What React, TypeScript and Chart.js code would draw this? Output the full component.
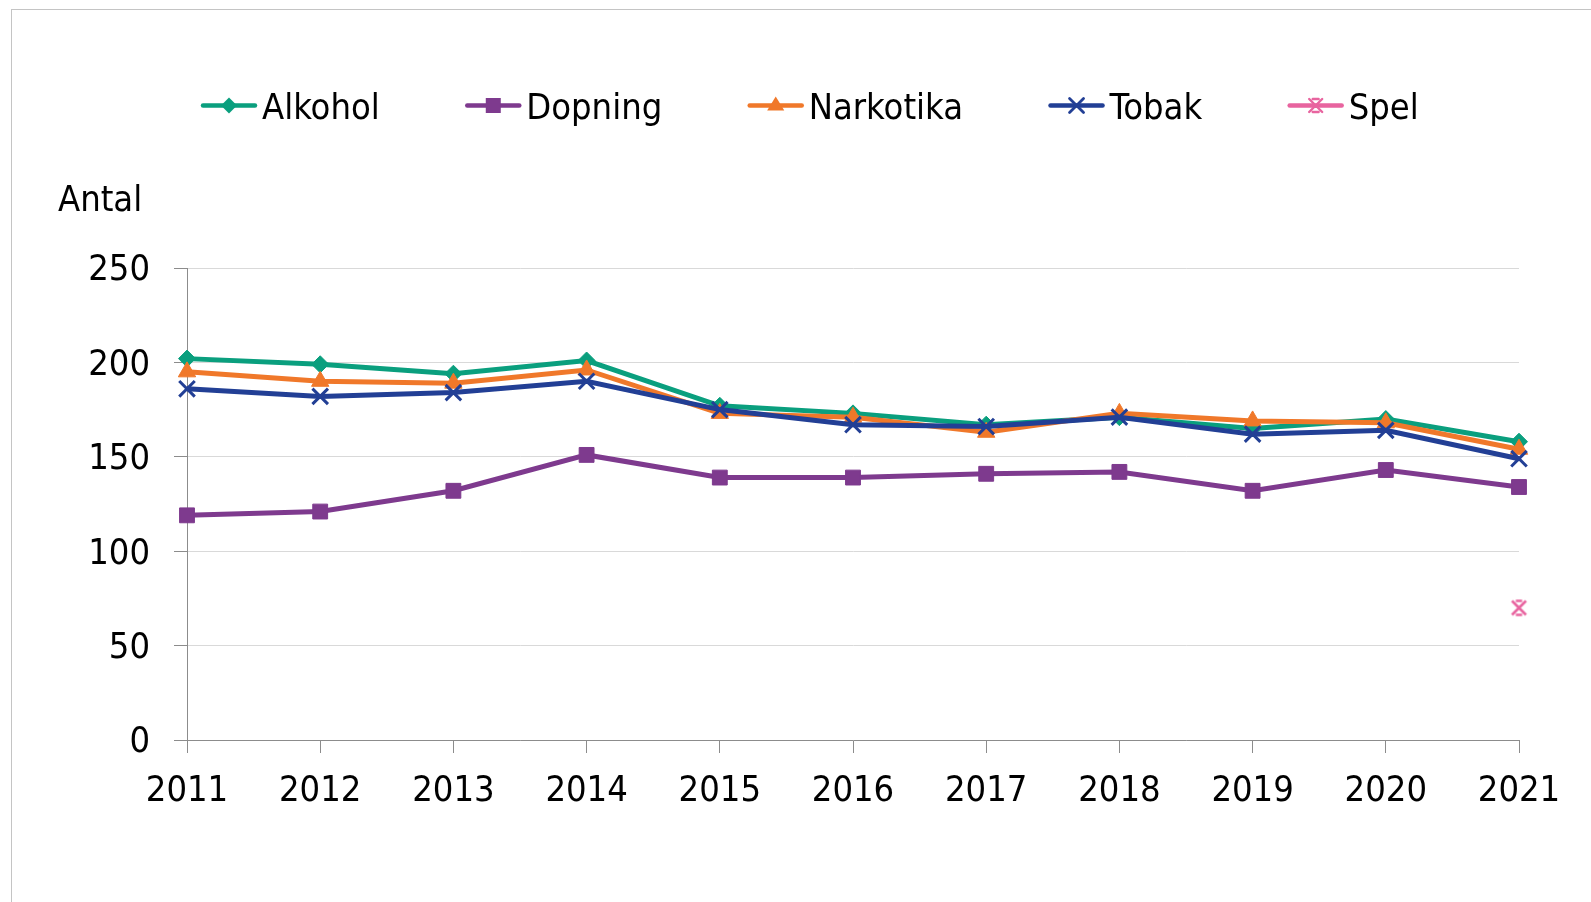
import React, { useEffect, useRef } from 'react';
import { Chart, registerables } from 'chart.js';

Chart.register(...registerables);

const years = ['2011', '2012', '2013', '2014', '2015', '2016', '2017', '2018', '2019', '2020', '2021'];
const alkohol = [202, 199, 194, 201, 177, 173, 167, 171, 165, 170, 158];
const dopning = [119, 121, 132, 151, 139, 139, 141, 142, 132, 143, 134];
const narkotika = [195, 190, 189, 196, 173, 171, 163, 173, 169, 168, 154];
const tobak = [186, 182, 184, 190, 175, 167, 166, 171, 162, 164, 149];
const spel = [null, null, null, null, null, null, null, null, null, null, 70];
const seriesNames = ['Alkohol', 'Dopning', 'Narkotika', 'Tobak', 'Spel'];
const yAxisTitle = 'Antal';

const FONT = '"DejaVu Sans Condensed", "DejaVu Sans", sans-serif';
const colors = {
  Alkohol: '#0a9f7e',
  Dopning: '#7e3a8e',
  Narkotika: '#f0782a',
  Tobak: '#223f95',
  Spel: '#e8649f',
};

function strokeStar(g: CanvasRenderingContext2D, x: number, y: number, r: number) {
  g.beginPath();
  g.moveTo(x - r, y - r); g.lineTo(x + r, y + r);
  g.moveTo(x + r, y - r); g.lineTo(x - r, y + r);
  g.moveTo(x - r * 0.45, y - r); g.lineTo(x + r * 0.45, y - r);
  g.moveTo(x - r * 0.45, y + r); g.lineTo(x + r * 0.45, y + r);
  g.stroke();
}

function makeStarCanvas(color: string, size: number) {
  const c = document.createElement('canvas');
  c.width = size;
  c.height = size;
  const g = c.getContext('2d')!;
  g.strokeStyle = color;
  g.lineWidth = 2.6;
  strokeStar(g, size / 2, size / 2, size / 2 - 2.5);
  return c;
}

function drawMarker(ctx: CanvasRenderingContext2D, style: string, x: number, y: number, color: string) {
  ctx.save();
  ctx.fillStyle = color;
  ctx.strokeStyle = color;
  if (style === 'rectRot') {
    const r = 8;
    ctx.beginPath();
    ctx.moveTo(x, y - r); ctx.lineTo(x + r, y); ctx.lineTo(x, y + r); ctx.lineTo(x - r, y);
    ctx.closePath(); ctx.fill();
  } else if (style === 'rect') {
    const s = 7.5;
    ctx.fillRect(x - s, y - s, 2 * s, 2 * s);
  } else if (style === 'triangle') {
    const r = 9;
    ctx.beginPath();
    ctx.moveTo(x, y - r); ctx.lineTo(x + r * 0.95, y + r * 0.55); ctx.lineTo(x - r * 0.95, y + r * 0.55);
    ctx.closePath(); ctx.fill();
  } else if (style === 'crossRot') {
    const r = 7;
    ctx.lineWidth = 2.8;
    ctx.beginPath();
    ctx.moveTo(x - r, y - r); ctx.lineTo(x + r, y + r);
    ctx.moveTo(x + r, y - r); ctx.lineTo(x - r, y + r);
    ctx.stroke();
  } else if (style === 'star') {
    ctx.lineWidth = 2.4;
    strokeStar(ctx, x, y, 6.5);
  }
  ctx.restore();
}

const markerStyles = ['rectRot', 'rect', 'triangle', 'crossRot', 'star'];

const decorPlugin = {
  id: 'decor',
  beforeDraw(chart: any) {
    const ctx = chart.ctx as CanvasRenderingContext2D;
    ctx.save();
    ctx.fillStyle = '#ffffff';
    ctx.fillRect(0, 0, chart.width, chart.height);
    ctx.strokeStyle = '#c4c4c4';
    ctx.lineWidth = 1;
    ctx.strokeRect(11.5, 9.5, chart.width + 20, chart.height + 20);
    ctx.restore();
  },
  afterDraw(chart: any) {
    const ctx = chart.ctx as CanvasRenderingContext2D;
    ctx.save();
    ctx.font = `36px ${FONT}`;
    ctx.fillStyle = '#000000';
    ctx.textBaseline = 'alphabetic';
    ctx.textAlign = 'left';
    ctx.fillText(yAxisTitle, 58, 211);

    let x = 201;
    const yMid = 105.5;
    const lineLen = 56;
    seriesNames.forEach((name, i) => {
      const color = (colors as any)[name];
      ctx.strokeStyle = color;
      ctx.lineWidth = 4.5;
      ctx.lineCap = 'round';
      ctx.beginPath();
      ctx.moveTo(x + 2, yMid);
      ctx.lineTo(x + lineLen - 2, yMid);
      ctx.stroke();
      drawMarker(ctx, markerStyles[i], x + lineLen / 2, yMid, color);
      ctx.fillStyle = '#000000';
      ctx.fillText(name, x + lineLen + 5, 119);
      const w = ctx.measureText(name).width;
      x += lineLen + 5 + w + 85.5;
    });
    ctx.restore();
  },
};

export default function App() {
  const ref = useRef<HTMLCanvasElement | null>(null);

  useEffect(() => {
    if (!ref.current) return;
    Chart.defaults.font.family = FONT;
    const starImg = makeStarCanvas(colors.Spel, 19);
    const base = {
      borderWidth: 5,
      tension: 0,
      fill: false,
      spanGaps: false,
    };
    const chart = new Chart(ref.current, {
      type: 'line',
      data: {
        labels: years,
        datasets: [
          {
            ...base,
            label: seriesNames[0],
            data: alkohol,
            borderColor: colors.Alkohol,
            backgroundColor: colors.Alkohol,
            pointStyle: 'rectRot',
            pointRadius: 8.5,
            pointBorderWidth: 1,
            order: 5,
          },
          {
            ...base,
            label: seriesNames[1],
            data: dopning,
            borderColor: colors.Dopning,
            backgroundColor: colors.Dopning,
            pointStyle: 'rect',
            pointRadius: 10.5,
            pointBorderWidth: 1,
            order: 4,
          },
          {
            ...base,
            label: seriesNames[2],
            data: narkotika,
            borderColor: colors.Narkotika,
            backgroundColor: colors.Narkotika,
            pointStyle: 'triangle',
            pointRadius: 10,
            pointBorderWidth: 1,
            order: 3,
          },
          {
            ...base,
            label: seriesNames[3],
            data: tobak,
            borderColor: colors.Tobak,
            backgroundColor: colors.Tobak,
            pointStyle: 'crossRot',
            pointRadius: 11,
            pointBorderWidth: 3,
            order: 2,
          },
          {
            ...base,
            label: seriesNames[4],
            data: spel,
            borderColor: colors.Spel,
            backgroundColor: colors.Spel,
            pointStyle: starImg as any,
            pointRadius: 9,
            order: 1,
          },
        ],
      },
      options: {
        responsive: false,
        animation: false,
        devicePixelRatio: 1,
        layout: { padding: { left: 0, right: 72, top: 268, bottom: 0 } },
        plugins: {
          legend: { display: false },
          title: { display: false },
          tooltip: { enabled: false },
        },
        scales: {
          x: {
            type: 'category',
            offset: false,
            afterFit: (s: any) => { s.height = 162; },
            grid: {
              drawOnChartArea: false,
              drawTicks: true,
              tickLength: 13,
              tickColor: '#8c8c8c',
              lineWidth: 1,
            },
            border: { display: true, color: '#8c8c8c', width: 1 },
            ticks: {
              color: '#000000',
              font: { size: 36, family: FONT },
              padding: 17,
              maxRotation: 0,
              autoSkip: false,
            },
          },
          y: {
            type: 'linear',
            min: 0,
            max: 250,
            afterFit: (s: any) => { s.width = 187; },
            grid: {
              color: '#d9d9d9',
              lineWidth: 1,
              drawTicks: true,
              tickLength: 13,
              tickColor: '#8c8c8c',
            },
            border: { display: true, color: '#8c8c8c', width: 1 },
            ticks: {
              stepSize: 50,
              color: '#000000',
              font: { size: 36, family: FONT },
              padding: 24,
              labelOffset: 3,
            },
          },
        },
      },
      plugins: [decorPlugin],
    });
    return () => chart.destroy();
  }, []);

  return (
    <div style={{ position: 'fixed', left: 0, top: 0, width: 1591, height: 902, background: '#fff' }}>
      <canvas ref={ref} width={1591} height={902} style={{ display: 'block' }} />
    </div>
  );
}
